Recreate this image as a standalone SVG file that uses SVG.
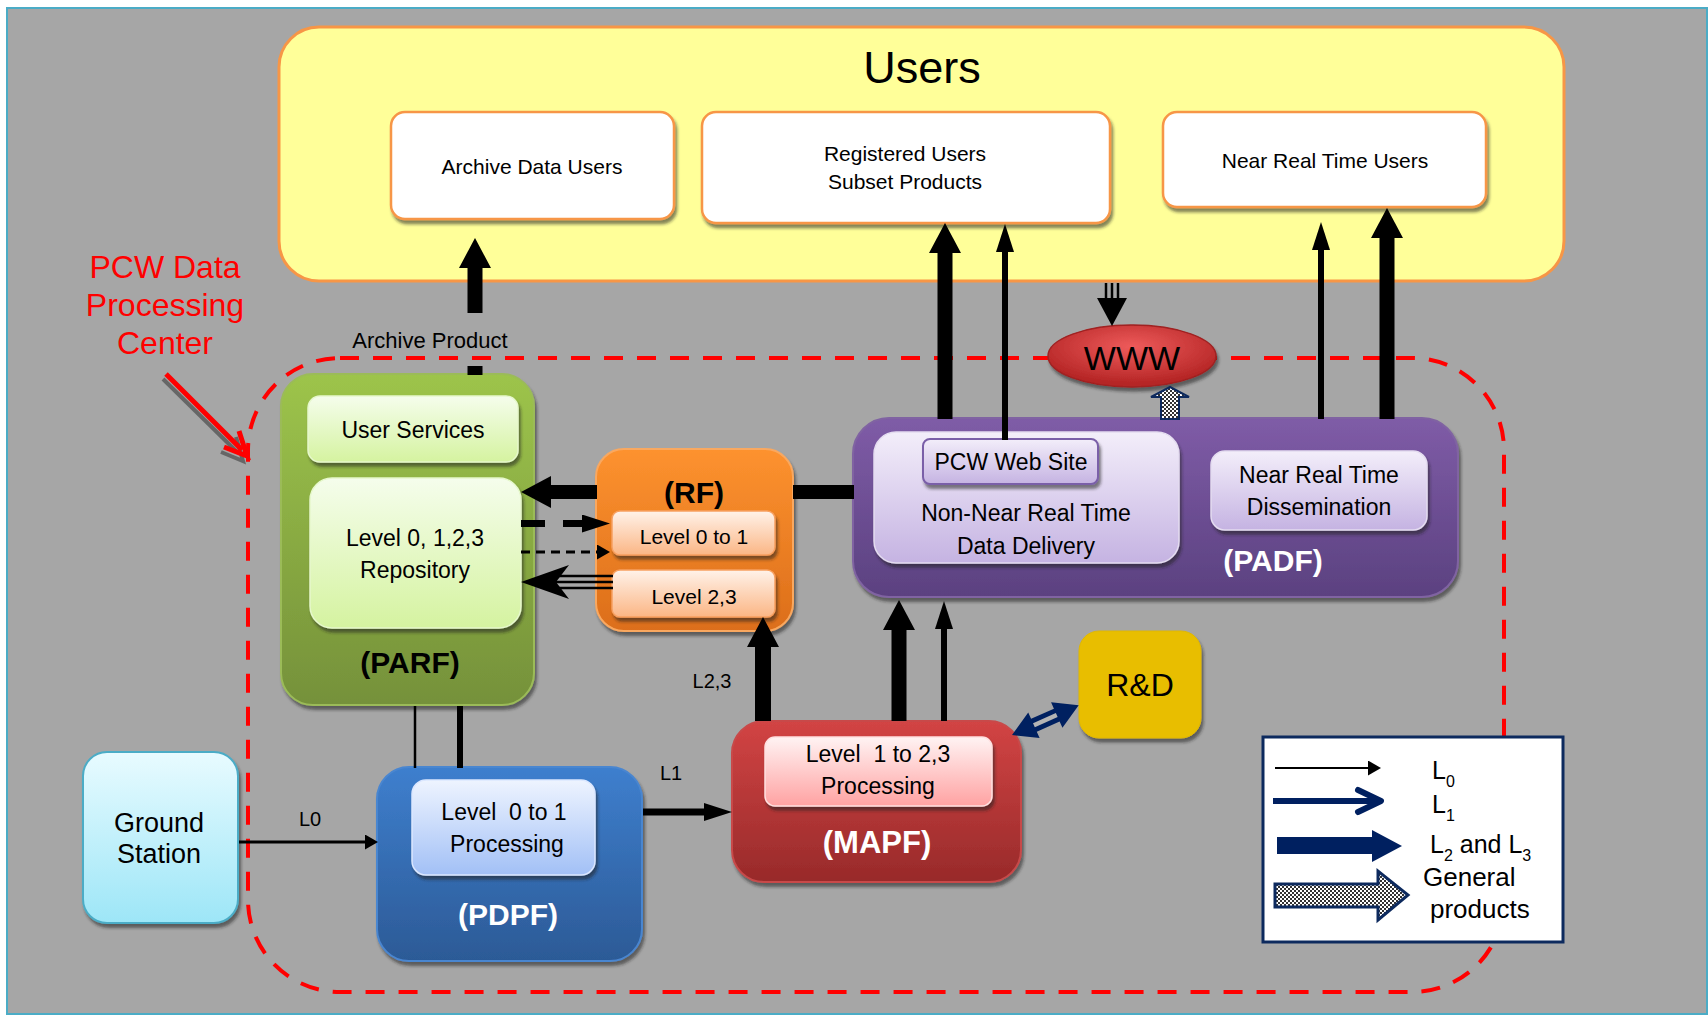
<svg xmlns="http://www.w3.org/2000/svg" width="1708" height="1016" viewBox="0 0 1708 1016">
<style>
  .t { font-family: "Liberation Sans", Arial, sans-serif; fill: #000; text-anchor: middle; }
  .tl { font-family: "Liberation Sans", Arial, sans-serif; fill: #000; text-anchor: start; }
  .b { font-weight: bold; }
  .w { fill: #ffffff; }
  .red { fill: #ff0000; }
  .ibox { stroke-width: 1.5; }
</style>
<defs>
  <linearGradient id="gGreen" x1="0" y1="0" x2="0" y2="1"><stop offset="0" stop-color="#9dc44b"/><stop offset="1" stop-color="#75913a"/></linearGradient>
  <linearGradient id="gGreenIn" x1="0" y1="0" x2="0" y2="1"><stop offset="0" stop-color="#f5fdec"/><stop offset="1" stop-color="#d5f3a0"/></linearGradient>
  <linearGradient id="gOrange" x1="0" y1="0" x2="0" y2="1"><stop offset="0" stop-color="#fd922f"/><stop offset="1" stop-color="#dc6e1a"/></linearGradient>
  <linearGradient id="gPeach" x1="0" y1="0" x2="0" y2="1"><stop offset="0" stop-color="#fff2e9"/><stop offset="1" stop-color="#fbb685"/></linearGradient>
  <linearGradient id="gPurple" x1="0" y1="0" x2="0" y2="1"><stop offset="0" stop-color="#7f5ca7"/><stop offset="1" stop-color="#5b4180"/></linearGradient>
  <linearGradient id="gLav" x1="0" y1="0" x2="0" y2="1"><stop offset="0" stop-color="#f3eefa"/><stop offset="1" stop-color="#c5b3e2"/></linearGradient>
  <linearGradient id="gBlue" x1="0" y1="0" x2="0" y2="1"><stop offset="0" stop-color="#3e7fce"/><stop offset="1" stop-color="#2c5a96"/></linearGradient>
  <linearGradient id="gBlueIn" x1="0" y1="0" x2="0" y2="1"><stop offset="0" stop-color="#eef4ff"/><stop offset="1" stop-color="#a2c0f6"/></linearGradient>
  <linearGradient id="gRed" x1="0" y1="0" x2="0" y2="1"><stop offset="0" stop-color="#d24444"/><stop offset="1" stop-color="#982a2a"/></linearGradient>
  <linearGradient id="gPink" x1="0" y1="0" x2="0" y2="1"><stop offset="0" stop-color="#fff3f3"/><stop offset="1" stop-color="#ffa2a2"/></linearGradient>
  <linearGradient id="gCyan" x1="0" y1="0" x2="0" y2="1"><stop offset="0" stop-color="#e8fbff"/><stop offset="1" stop-color="#9de6f7"/></linearGradient>
  <radialGradient id="gWww" cx="0.5" cy="0.35" r="0.6"><stop offset="0" stop-color="#ee5b5b"/><stop offset="1" stop-color="#b52525"/></radialGradient>
  <pattern id="checker" width="4" height="4" patternUnits="userSpaceOnUse">
    <rect width="4" height="4" fill="#ffffff"/>
    <rect width="2" height="2" fill="#333333"/>
    <rect x="2" y="2" width="2" height="2" fill="#333333"/>
  </pattern>
  <filter id="sh" x="-10%" y="-10%" width="125%" height="130%">
    <feDropShadow dx="2" dy="4" stdDeviation="1.5" flood-color="#222222" flood-opacity="0.55"/>
  </filter>
  <marker id="hThick" markerUnits="userSpaceOnUse" viewBox="0 0 30 32" markerWidth="30" markerHeight="32" refX="0" refY="16" orient="auto">
    <path d="M0,0 L30,16 L0,32 z" fill="#000"/>
  </marker>
  <marker id="hThin" markerUnits="userSpaceOnUse" viewBox="0 0 28 18" markerWidth="28" markerHeight="18" refX="0" refY="9" orient="auto">
    <path d="M0,0 L28,9 L0,18 z" fill="#000"/>
  </marker>
  <marker id="hSmall" markerUnits="userSpaceOnUse" viewBox="0 0 13 15" markerWidth="13" markerHeight="15" refX="0" refY="7.5" orient="auto">
    <path d="M0,0 L13,7.5 L0,15 z" fill="#000"/>
  </marker>
</defs>

<!-- background -->
<rect x="0" y="0" width="1708" height="1016" fill="#ffffff"/>
<rect x="7" y="8" width="1700" height="1006" fill="#a6a6a6" stroke="#4bacc6" stroke-width="2"/>

<!-- Users container -->
<g id="users">
  <rect x="279" y="27" width="1285" height="254" rx="40" fill="#ffff99" stroke="#f79646" stroke-width="3"/>
  <text class="t" x="922" y="83" font-size="45">Users</text>
</g>
<g id="archive-users">
  <rect x="391" y="112" width="283" height="107" rx="14" fill="#ffffff" stroke="#f79646" stroke-width="2.5" filter="url(#sh)"/>
  <text class="t" x="532" y="174" font-size="21">Archive Data Users</text>
</g>
<g id="registered-users">
  <rect x="702" y="112" width="408" height="111" rx="14" fill="#ffffff" stroke="#f79646" stroke-width="2.5" filter="url(#sh)"/>
  <text class="t" x="905" y="161" font-size="21">Registered Users</text>
  <text class="t" x="905" y="189" font-size="21">Subset Products</text>
</g>
<g id="nrt-users">
  <rect x="1163" y="112" width="323" height="95" rx="14" fill="#ffffff" stroke="#f79646" stroke-width="2.5" filter="url(#sh)"/>
  <text class="t" x="1325" y="168" font-size="21">Near Real Time Users</text>
</g>

<!-- PCW Data Processing Center boundary -->
<g id="pcw-center">
  <rect x="248" y="358" width="1256" height="634" rx="92" fill="none" stroke="#ff0000" stroke-width="4" stroke-dasharray="19 14"/>
  <text class="t red" x="165" y="278" font-size="32">PCW Data</text>
  <text class="t red" x="165" y="316" font-size="32">Processing</text>
  <text class="t red" x="165" y="354" font-size="32">Center</text>
</g>

<!-- WWW -->
<g id="www">
  <ellipse cx="1132" cy="356" rx="84" ry="31" fill="url(#gWww)" stroke="#a02020" stroke-width="1.5" filter="url(#sh)"/>
  <text class="t" x="1132" y="370" font-size="34">WWW</text>
</g>

<!-- PARF -->
<g id="parf">
  <rect x="281" y="374" width="253" height="331" rx="32" fill="url(#gGreen)" stroke="#9bbb59" stroke-width="2" filter="url(#sh)"/>
  <rect x="308" y="396" width="210" height="66" rx="12" fill="url(#gGreenIn)" stroke="#e6f8cc" class="ibox" filter="url(#sh)"/>
  <text class="t" x="413" y="438" font-size="23">User Services</text>
  <rect x="310" y="478" width="211" height="150" rx="22" fill="url(#gGreenIn)" stroke="#e6f8cc" class="ibox" filter="url(#sh)"/>
  <text class="t" x="415" y="546" font-size="23">Level 0, 1,2,3</text>
  <text class="t" x="415" y="578" font-size="23">Repository</text>
  <text class="t b" x="410" y="673" font-size="30">(PARF)</text>
</g>

<!-- RF -->
<g id="rf">
  <rect x="596" y="449" width="197" height="182" rx="28" fill="url(#gOrange)" stroke="#f9a860" stroke-width="2" filter="url(#sh)"/>
  <text class="t b" x="694" y="503" font-size="30">(RF)</text>
  <rect x="612" y="511" width="163" height="44" rx="8" fill="url(#gPeach)" stroke="#f8a060" class="ibox" filter="url(#sh)"/>
  <text class="t" x="694" y="544" font-size="21">Level 0 to 1</text>
  <rect x="612" y="570" width="163" height="47" rx="8" fill="url(#gPeach)" stroke="#f8a060" class="ibox" filter="url(#sh)"/>
  <text class="t" x="694" y="604" font-size="21">Level 2,3</text>
</g>

<!-- PADF -->
<g id="padf">
  <rect x="853" y="418" width="605" height="179" rx="36" fill="url(#gPurple)" stroke="#8064a2" stroke-width="2" filter="url(#sh)"/>
  <rect x="874" y="432" width="305" height="131" rx="22" fill="url(#gLav)" stroke="#e4dcf0" class="ibox" filter="url(#sh)"/>
  <rect x="923" y="439" width="175" height="45" rx="7" fill="url(#gLav)" stroke="#7a5ea8" stroke-width="2" filter="url(#sh)"/>
  <text class="t" x="1011" y="470" font-size="23">PCW Web Site</text>
  <text class="t" x="1026" y="521" font-size="23">Non-Near Real Time</text>
  <text class="t" x="1026" y="554" font-size="23">Data Delivery</text>
  <rect x="1211" y="451" width="216" height="79" rx="14" fill="url(#gLav)" stroke="#e4dcf0" class="ibox" filter="url(#sh)"/>
  <text class="t" x="1319" y="483" font-size="23">Near Real Time</text>
  <text class="t" x="1319" y="515" font-size="23">Dissemination</text>
  <text class="t b w" x="1273" y="571" font-size="30">(PADF)</text>
</g>

<!-- Ground Station -->
<g id="ground-station">
  <rect x="83" y="752" width="155" height="171" rx="24" fill="url(#gCyan)" stroke="#4bacc6" stroke-width="2" filter="url(#sh)"/>
  <text class="t" x="159" y="832" font-size="27">Ground</text>
  <text class="t" x="159" y="863" font-size="27">Station</text>
</g>

<!-- PDPF -->
<g id="pdpf">
  <rect x="377" y="767" width="265" height="194" rx="32" fill="url(#gBlue)" stroke="#4a86d0" stroke-width="2" filter="url(#sh)"/>
  <rect x="412" y="780" width="183" height="95" rx="14" fill="url(#gBlueIn)" stroke="#dbe7ff" class="ibox" filter="url(#sh)"/>
  <text class="t" x="504" y="820" font-size="23">Level&#160; 0 to 1</text>
  <text class="t" x="507" y="852" font-size="23">Processing</text>
  <text class="t b w" x="508" y="925" font-size="30">(PDPF)</text>
</g>

<!-- MAPF -->
<g id="mapf">
  <rect x="732" y="721" width="289" height="161" rx="32" fill="url(#gRed)" stroke="#c84a4a" stroke-width="2" filter="url(#sh)"/>
  <rect x="765" y="737" width="227" height="69" rx="10" fill="url(#gPink)" stroke="#ffe0e0" class="ibox" filter="url(#sh)"/>
  <text class="t" x="878" y="762" font-size="23">Level&#160; 1 to 2,3</text>
  <text class="t" x="878" y="794" font-size="23">Processing</text>
  <text class="t b w" x="877" y="853" font-size="31">(MAPF)</text>
</g>

<!-- R&D -->
<g id="rnd">
  <rect x="1079" y="631" width="122" height="107" rx="20" fill="#e8be00" stroke="#e0b800" stroke-width="1" filter="url(#sh)"/>
  <text class="t" x="1140" y="696" font-size="32">R&amp;D</text>
</g>

<!-- connectors -->
<g id="connectors">
  <!-- red annotation arrow -->
  <g opacity="0.55" stroke="#333" stroke-width="4" fill="none">
    <line x1="163" y1="379" x2="236" y2="451"/>
    <polyline points="236,437 243,461 221,452"/>
  </g>
  <line x1="166" y1="374" x2="242" y2="450" stroke="#ff0000" stroke-width="5"/>
  <polyline points="239,431 247,456 224,447" fill="none" stroke="#ff0000" stroke-width="5" stroke-linejoin="miter"/>

  <!-- PARF -> Archive Data Users -->
  <line x1="475" y1="375" x2="475" y2="366" stroke="#000" stroke-width="15"/>
  <line x1="475" y1="313" x2="475" y2="268" stroke="#000" stroke-width="15" marker-end="url(#hThick)"/>
  <text class="t" x="430" y="348" font-size="22">Archive Product</text>

  <!-- PADF -> Registered Users -->
  <line x1="945" y1="419" x2="945" y2="253" stroke="#000" stroke-width="15" marker-end="url(#hThick)"/>
  <line x1="1005" y1="440" x2="1005" y2="252" stroke="#000" stroke-width="6" marker-end="url(#hThin)"/>

  <!-- PADF -> Near Real Time Users -->
  <line x1="1321" y1="419" x2="1321" y2="250" stroke="#000" stroke-width="6" marker-end="url(#hThin)"/>
  <line x1="1387" y1="419" x2="1387" y2="238" stroke="#000" stroke-width="15" marker-end="url(#hThick)"/>

  <!-- Users -> WWW (triple line) -->
  <g stroke="#000" stroke-width="2.5">
    <line x1="1106" y1="283" x2="1106" y2="300"/>
    <line x1="1112" y1="283" x2="1112" y2="300"/>
    <line x1="1118" y1="283" x2="1118" y2="300"/>
  </g>
  <polygon points="1097,298 1127,298 1112,326" fill="#000"/>

  <!-- PADF -> WWW (general products) -->
  <polygon points="1170,387 1189,397 1179,397 1179,419 1161,419 1161,397 1151,397" fill="url(#checker)" stroke="#0d2a5e" stroke-width="2"/>

  <!-- RF <-> PADF bar -->
  <line x1="793" y1="492" x2="854" y2="492" stroke="#000" stroke-width="14"/>

  <!-- RF -> PARF thick -->
  <line x1="597" y1="492" x2="551" y2="492" stroke="#000" stroke-width="14" marker-end="url(#hThick)"/>

  <!-- PARF -> Level 0 to 1 dashed -->
  <line x1="521" y1="523.5" x2="582" y2="523.5" stroke="#000" stroke-width="7" stroke-dasharray="24 18" marker-end="url(#hThin)"/>
  <line x1="521" y1="552" x2="597" y2="552" stroke="#000" stroke-width="3" stroke-dasharray="9 6" marker-end="url(#hSmall)"/>

  <!-- Level 2,3 -> PARF triple line -->
  <g stroke="#000" stroke-width="2.5">
    <line x1="552" y1="576" x2="613" y2="576"/>
    <line x1="552" y1="582" x2="613" y2="582"/>
    <line x1="552" y1="588" x2="613" y2="588"/>
  </g>
  <polygon points="521,582 569,565 556,582 569,599" fill="#000"/>

  <!-- PARF <-> PDPF -->
  <line x1="415" y1="706" x2="415" y2="768" stroke="#000" stroke-width="2.5"/>
  <line x1="460" y1="706" x2="460" y2="768" stroke="#000" stroke-width="6"/>

  <!-- Ground Station -> PDPF (L0) -->
  <line x1="239" y1="842" x2="365" y2="842" stroke="#000" stroke-width="3" marker-end="url(#hSmall)"/>
  <text class="t" x="310" y="826" font-size="20">L0</text>

  <!-- PDPF -> MAPF (L1) -->
  <line x1="643" y1="812" x2="704" y2="812" stroke="#000" stroke-width="7" marker-end="url(#hThin)"/>
  <text class="t" x="671" y="780" font-size="20">L1</text>

  <!-- MAPF -> RF (L2,3) -->
  <line x1="763" y1="721" x2="763" y2="647" stroke="#000" stroke-width="16" marker-end="url(#hThick)"/>
  <text class="t" x="712" y="688" font-size="20">L2,3</text>

  <!-- MAPF -> PADF -->
  <line x1="899" y1="721" x2="899" y2="630" stroke="#000" stroke-width="15" marker-end="url(#hThick)"/>
  <line x1="944" y1="721" x2="944" y2="629" stroke="#000" stroke-width="6" marker-end="url(#hThin)"/>

  <!-- MAPF <-> R&D -->
  <g transform="translate(1012,735) rotate(-24)">
    <polygon points="0,0 24,-14 24,-7 49,-7 49,-14 73,0 49,14 49,7 24,7 24,14" fill="#002060"/>
    <rect x="24" y="-2.2" width="25" height="4.4" fill="#b4b4b4"/>
  </g>
</g>

<!-- Legend -->
<g id="legend">
  <rect x="1263" y="737" width="300" height="205" fill="#ffffff" stroke="#0d2a5e" stroke-width="3"/>
  <line x1="1275" y1="768" x2="1368" y2="768" stroke="#000" stroke-width="2" marker-end="url(#hSmall)"/>
  <line x1="1273" y1="801" x2="1378" y2="801" stroke="#002060" stroke-width="6"/>
  <polyline points="1358,790 1381,801 1358,812" fill="none" stroke="#002060" stroke-width="6" stroke-linecap="round" stroke-linejoin="round"/>
  <polygon points="1277,837 1372,837 1372,830 1402,846 1372,862 1372,854 1277,854" fill="#002060"/>
  <polygon points="1275,884 1378,884 1378,871 1408,895 1378,920 1378,907 1275,907" fill="url(#checker)" stroke="#0d2a5e" stroke-width="3"/>
  <text class="tl" x="1432" y="779" font-size="25">L<tspan font-size="16" dy="8">0</tspan></text>
  <text class="tl" x="1432" y="813" font-size="25">L<tspan font-size="16" dy="8">1</tspan></text>
  <text class="tl" x="1430" y="853" font-size="25">L<tspan font-size="16" dy="8">2</tspan><tspan dy="-8"> and L</tspan><tspan font-size="16" dy="8">3</tspan></text>
  <text class="tl" x="1423" y="886" font-size="26">General</text>
  <text class="tl" x="1430" y="918" font-size="26">products</text>
</g>
</svg>
